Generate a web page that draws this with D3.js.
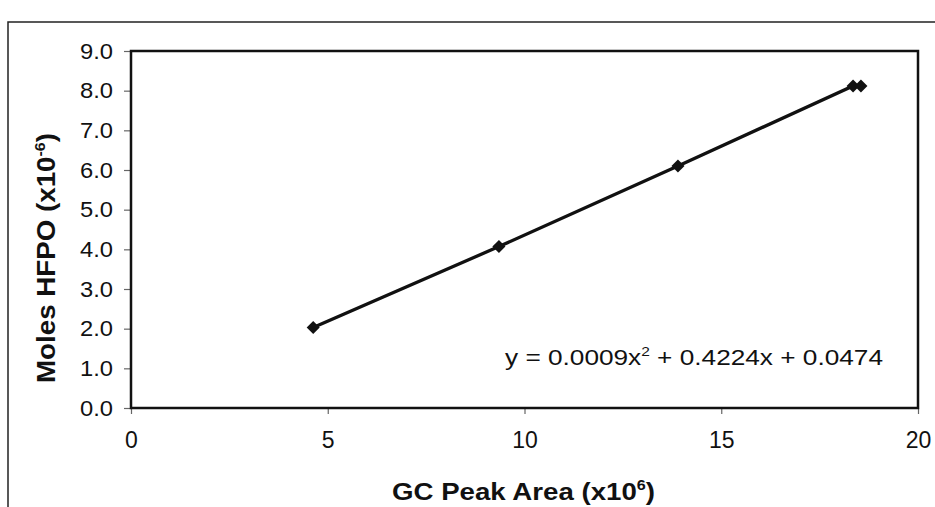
<!DOCTYPE html>
<html>
<head>
<meta charset="utf-8">
<script src="https://cdn.jsdelivr.net/npm/d3@7"></script>
<style>
    body { margin: 0; background: #fff; }
    svg text { font-family: "Liberation Sans", Arial, sans-serif; fill: #111; }
</style>
</head>
<body>
<div id="chart"></div>
<script>
// Calibration data (GC peak area x10^6 vs moles HFPO x10^-6)
const peakArea = [4.63, 9.35, 13.9, 18.35, 18.55];
const molesHFPO = [2.03, 4.07, 6.1, 8.12, 8.12];
const xTicks = [0, 5, 10, 15, 20];
const yTicks = [0, 1, 2, 3, 4, 5, 6, 7, 8, 9];

const width = 935, height = 507;
const margin = { top: 51, right: 17, bottom: 99, left: 131 };
const innerW = width - margin.left - margin.right;
const innerH = height - margin.top - margin.bottom;

const svg = d3.select('#chart')
    .append('svg')
    .attr('width', width)
    .attr('height', height);

// Outer chart frame
svg.append('rect')
    .attr('x', 8).attr('y', 22)
    .attr('width', 940).attr('height', 520)
    .attr('fill', 'none')
    .attr('stroke', '#222')
    .attr('stroke-width', 1.5);

const g = svg.append('g')
    .attr('transform', `translate(${margin.left},${margin.top})`);

const x = d3.scaleLinear().domain([0, 20]).range([0, innerW]);
const y = d3.scaleLinear().domain([0, 9]).range([innerH, 0]);

// Axes
const xAxis = g.append('g')
    .attr('transform', `translate(0,${innerH})`)
    .call(d3.axisBottom(x).tickValues(xTicks).tickSize(6).tickPadding(18).tickFormat(d3.format('d')));

const yAxis = g.append('g')
    .call(d3.axisLeft(y).tickValues(yTicks).tickSize(7).tickPadding(11).tickFormat(d3.format('.1f')));

[xAxis, yAxis].forEach(a => {
    a.select('.domain').remove();
    a.selectAll('.tick line').attr('stroke', '#666').attr('stroke-width', 1.2);
    a.selectAll('.tick text').style('font-size', '22px').attr('fill', '#111');
});
yAxis.selectAll('.tick text').attr('textLength', 33).attr('lengthAdjust', 'spacingAndGlyphs');
xAxis.selectAll('.tick text').style('font-size', '23px');

// Plot area border
g.append('rect')
    .attr('width', innerW).attr('height', innerH)
    .attr('fill', 'none')
    .attr('stroke', '#111')
    .attr('stroke-width', 2.5);

const points = peakArea.map((v, i) => ({ x: v, y: molesHFPO[i] }));

// Connecting line
g.append('path')
    .datum(points)
    .attr('fill', 'none')
    .attr('stroke', '#111')
    .attr('stroke-width', 3.3)
    .attr('d', d3.line().x(d => x(d.x)).y(d => y(d.y)));

// Diamond markers (squares turned 45 degrees)
g.selectAll('.marker')
    .data(points)
    .enter()
    .append('path')
    .attr('class', 'marker')
    .attr('transform', d => `translate(${x(d.x)},${y(d.y)}) rotate(45)`)
    .attr('d', d3.symbol().type(d3.symbolSquare).size(85))
    .attr('fill', '#111');

// Equation label
svg.append('text')
    .attr('x', 505)
    .attr('y', 365)
    .attr('textLength', 378)
    .attr('lengthAdjust', 'spacingAndGlyphs')
    .style('font-size', '22px')
    .html('y = 0.0009x<tspan dy="-9" style="font-size:13px">2</tspan><tspan dy="9"> + 0.4224x + 0.0474</tspan>');

// Axis titles
svg.append('text')
    .attr('x', 392).attr('y', 500)
    .attr('textLength', 263)
    .attr('lengthAdjust', 'spacingAndGlyphs')
    .style('font-size', '24px').style('font-weight', 'bold')
    .html('GC Peak Area (x10<tspan dy="-10" style="font-size:14px">6</tspan><tspan dy="10">)</tspan>');

svg.append('text')
    .attr('transform', 'translate(55,383) rotate(-90)')
    .attr('textLength', 250)
    .attr('lengthAdjust', 'spacingAndGlyphs')
    .style('font-size', '26px').style('font-weight', 'bold')
    .html('Moles HFPO (x10<tspan dy="-10" style="font-size:15px">-6</tspan><tspan dy="10">)</tspan>');
</script>
</body>
</html>
